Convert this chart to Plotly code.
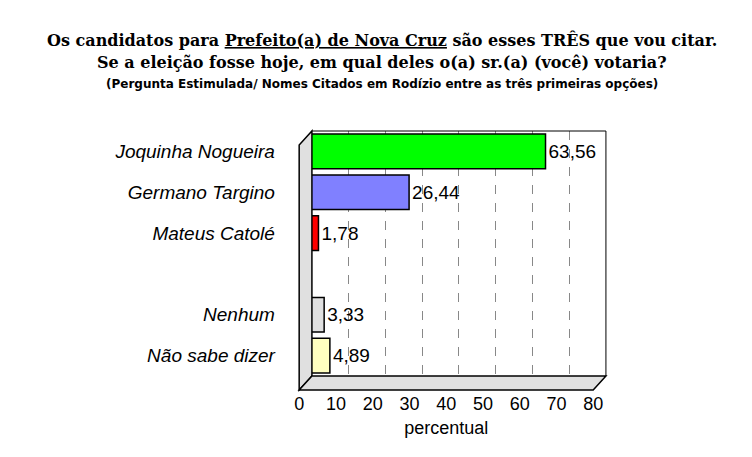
import plotly.graph_objects as go

candidatos = ["Joquinha Nogueira", "Germano Targino", "Mateus Catolé", " ", "Nenhum", "Não sabe dizer"]
valores = [63.56, 26.44, 1.78, None, 3.33, 4.89]
cores = ["#00ff00", "#8080ff", "#ff0000", "#ffffff", "#e0e0e0", "#ffffc0"]
rotulos = [f"{v:.2f}".replace(".", ",") if v is not None else "" for v in valores]

W, H = 752, 457
DX, DY = -6, -5
def px(x): return (x + DX) / W
def py(y): return 1 - (y + DY) / H

fig = go.Figure(go.Bar(
    y=candidatos, x=valores, orientation="h",
    marker=dict(color=cores, line=dict(color="#000", width=1.5)),
    text=rotulos, textposition="outside", cliponaxis=False,
    textfont=dict(family="Arial", size=19, color="#000"),
    width=0.85,
))
fig.add_trace(go.Scatter(x=[0], y=[0], xaxis="x2", yaxis="y2", mode="markers",
                         marker=dict(opacity=0), showlegend=False, hoverinfo="skip"))

# 3D-ish wall and floor
fig.add_shape(type="path", xref="paper", yref="paper", layer="below",
              path=f"M {px(298)} {py(387)} L {px(298)} {py(142)} L {px(311)} {py(128)} L {px(311)} {py(373)} Z",
              fillcolor="#e0e0e0", line=dict(color="#000", width=1.5))
fig.add_shape(type="path", xref="paper", yref="paper", layer="below",
              path=f"M {px(298)} {py(387)} L {px(598)} {py(387)} L {px(611)} {py(373)} L {px(311)} {py(373)} Z",
              fillcolor="#e0e0e0", line=dict(color="#000", width=1.5))
fig.add_shape(type="line", xref="paper", yref="paper", x0=px(611), x1=px(611), y0=py(373), y1=py(128),
              line=dict(color="#000", width=1))
fig.add_shape(type="line", xref="paper", yref="paper", x0=px(311), x1=px(611), y0=py(128), y1=py(128),
              line=dict(color="#000", width=1))

fig.update_layout(
    width=W, height=H, margin=dict(l=0, r=0, t=0, b=0),
    plot_bgcolor="rgba(0,0,0,0)", paper_bgcolor="#fff", showlegend=False, bargap=0.15,
    xaxis=dict(domain=[px(311), px(611)], range=[0, 80], dtick=10, showticklabels=False,
               showgrid=True, gridcolor="#888", griddash="dash", gridwidth=1, zeroline=False, fixedrange=True),
    yaxis=dict(domain=[py(373), py(128)], categoryorder="array", categoryarray=candidatos[::-1],
               ticklabelstandoff=36, showgrid=False, zeroline=False,
               tickfont=dict(family="Arial", size=19, color="#000", style="italic")),
    xaxis2=dict(domain=[px(298), px(598)], range=[0, 80], dtick=10, anchor="y2",
                showgrid=False, zeroline=False, tickfont=dict(family="Arial", size=18, color="#000"),
                title=dict(text="percentual", font=dict(family="Arial", size=18, color="#000"), standoff=8)),
    yaxis2=dict(domain=[py(388), py(387)], visible=False),
    font=dict(family="Arial"),
)

fig.add_annotation(xref="paper", yref="paper", x=0.5, y=1 - 32 / H, yanchor="middle", showarrow=False,
                   text="<b>Os candidatos para <u>Prefeito(a) de Nova Cruz</u> são esses TRÊS que vou citar.</b>",
                   font=dict(family="DejaVu Serif", size=16, color="#000"))
fig.add_annotation(xref="paper", yref="paper", x=0.5, y=1 - 55 / H, yanchor="middle", showarrow=False,
                   text="<b>Se a eleição fosse hoje, em qual deles o(a) sr.(a) (você) votaria?</b>",
                   font=dict(family="DejaVu Serif", size=16, color="#000"))
fig.add_annotation(xref="paper", yref="paper", x=0.5, y=1 - 76 / H, yanchor="middle", showarrow=False,
                   text="<b>(Pergunta Estimulada/ Nomes Citados em Rodízio entre as três primeiras opções)</b>",
                   font=dict(family="DejaVu Sans", size=12, color="#000"))

fig.write_html("out.html")
